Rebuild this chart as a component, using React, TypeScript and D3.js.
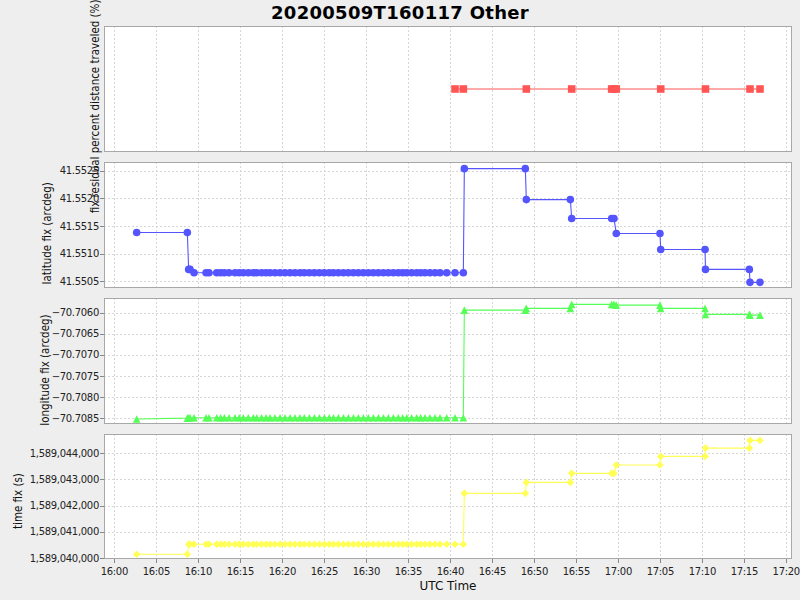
import React from 'react';
import * as d3 from 'd3';

// receipt times, minutes after 16:00 UTC
const receiptMinutes = [
  2.66, 8.69, 8.85, 9.01, 9.49, 10.92, 11.27, 12.19, 12.66, 13.10,
  13.65, 14.37, 14.88, 15.36, 15.96, 16.55, 16.95, 17.54, 18.06, 18.54,
  19.13, 19.73, 20.32, 20.92, 21.51, 22.11, 22.62, 23.22, 23.81, 24.41,
  25.00, 25.60, 26.08, 26.67, 27.27, 27.86, 28.46, 29.05, 29.65, 30.24,
  30.84, 31.43, 32.03, 32.62, 33.22, 33.81, 34.33, 34.81, 35.40, 36.00,
  36.47, 36.99, 37.58, 38.18, 38.77, 39.57, 40.56, 41.55,
  41.67, 48.93, 49.05, 54.29, 54.45, 59.21, 59.49, 59.76, 64.96, 65.05,
  70.33, 70.38, 75.60, 75.68, 76.87,
];

const latitudeFix = [
  41.551384, 41.551384, 41.550717, 41.550717, 41.550655, 41.550655, 41.550655, 41.550655, 41.550655, 41.550655,
  41.550655, 41.550655, 41.550655, 41.550655, 41.550655, 41.550655, 41.550655, 41.550655, 41.550655, 41.550655,
  41.550655, 41.550655, 41.550655, 41.550655, 41.550655, 41.550655, 41.550655, 41.550655, 41.550655, 41.550655,
  41.550655, 41.550655, 41.550655, 41.550655, 41.550655, 41.550655, 41.550655, 41.550655, 41.550655, 41.550655,
  41.550655, 41.550655, 41.550655, 41.550655, 41.550655, 41.550655, 41.550655, 41.550655, 41.550655, 41.550655,
  41.550655, 41.550655, 41.550655, 41.550655, 41.550655, 41.550655, 41.550655, 41.550655,
  41.55254, 41.55254, 41.55198, 41.55198, 41.551637, 41.551637, 41.551637, 41.551366, 41.551366, 41.551078,
  41.551078, 41.550717, 41.550717, 41.550482, 41.550482,
];

const longitudeFix = [
  -70.70852, -70.70850, -70.70849, -70.70849, -70.70849, -70.70849, -70.70849, -70.70849, -70.70849, -70.70849,
  -70.70849, -70.70849, -70.70849, -70.70849, -70.70849, -70.70849, -70.70849, -70.70849, -70.70849, -70.70849,
  -70.70849, -70.70849, -70.70849, -70.70849, -70.70849, -70.70849, -70.70849, -70.70849, -70.70849, -70.70849,
  -70.70849, -70.70849, -70.70849, -70.70849, -70.70849, -70.70849, -70.70849, -70.70849, -70.70849, -70.70849,
  -70.70849, -70.70849, -70.70849, -70.70849, -70.70849, -70.70849, -70.70849, -70.70849, -70.70849, -70.70849,
  -70.70849, -70.70849, -70.70849, -70.70849, -70.70849, -70.70849, -70.70849, -70.70849,
  -70.705937, -70.705937, -70.705897, -70.705897, -70.705802, -70.705802, -70.705802, -70.705818, -70.705818, -70.705897,
  -70.705897, -70.706039, -70.706039, -70.706056, -70.706056,
];

const timeFix = [
  1589040141, 1589040141, 1589040523, 1589040523, 1589040523, 1589040523, 1589040523, 1589040523, 1589040523, 1589040523,
  1589040523, 1589040523, 1589040523, 1589040523, 1589040523, 1589040523, 1589040523, 1589040523, 1589040523, 1589040523,
  1589040523, 1589040523, 1589040523, 1589040523, 1589040523, 1589040523, 1589040523, 1589040523, 1589040523, 1589040523,
  1589040523, 1589040523, 1589040523, 1589040523, 1589040523, 1589040523, 1589040523, 1589040523, 1589040523, 1589040523,
  1589040523, 1589040523, 1589040523, 1589040523, 1589040523, 1589040523, 1589040523, 1589040523, 1589040523, 1589040523,
  1589040523, 1589040523, 1589040523, 1589040523, 1589040523, 1589040523, 1589040523, 1589040523,
  1589042469, 1589042469, 1589042889, 1589042889, 1589043233, 1589043233, 1589043233, 1589043550, 1589043550, 1589043882,
  1589043882, 1589044198, 1589044198, 1589044492, 1589044492,
];

const percentMinutes = [40.56, 41.55, 49.05, 54.45, 59.21, 59.49, 59.76, 65.05, 70.38, 75.68, 76.87];
const percentValues = [0, 0, 0, 0, 0, 0, 0, 0, 0, 0, 0];

const latTicks = [41.5505, 41.551, 41.5515, 41.552, 41.5525];
const lonTicks = [-70.7085, -70.708, -70.7075, -70.707, -70.7065, -70.706];
const timeTicks = [1589040000, 1589041000, 1589042000, 1589043000, 1589044000];

const TITLE = '20200509T160117 Other';
const FONT = 'DejaVu Sans';

const base = Date.UTC(2020, 4, 9, 16, 0, 0);
const toDate = (m: number) => new Date(base + m * 60000);

const PL = 104;
const PR = 792;

const x = d3.scaleUtc().domain([toDate(-1.23), toDate(80.68)]).range([PL, PR]);
const xTicks = x.ticks(d3.utcMinute.every(5) as any);
const xFmt = d3.utcFormat('%H:%M');

function measure(s: string, font: string): number {
  const c = document.createElement('canvas').getContext('2d');
  if (!c) return s.length * 6.5;
  c.font = font;
  return c.measureText(s).width;
}

type Shape = 'square' | 'circle' | 'triangle' | 'diamond';
const shapePath = (s: Shape): string => {
  const r = 3.8;
  switch (s) {
    case 'square':
      return `M${-r},${-r}H${r}V${r}H${-r}Z`;
    case 'circle':
      return `M${-r},0A${r},${r} 0 1,0 ${r},0A${r},${r} 0 1,0 ${-r},0Z`;
    case 'triangle':
      return `M0,${-r}L${r},${r}L${-r},${r}Z`;
    default:
      return `M0,${-r}L${r},0L0,${r}L${-r},0Z`;
  }
};

interface PanelSpec {
  top: number;
  bottom: number;
  domain: [number, number];
  ticks: number[];
  fmt: (v: number) => string;
  times: number[];
  values: number[];
  color: string;
  shape: Shape;
  label: string;
}

const panels: PanelSpec[] = [
  {
    top: 26, bottom: 152, domain: [-1, 1], ticks: [], fmt: () => '',
    times: percentMinutes, values: percentValues, color: '#ff5555', shape: 'square',
    label: 'fix residual percent distance traveled (%)',
  },
  {
    top: 162, bottom: 288, domain: [41.55038, 41.55266], ticks: latTicks, fmt: d3.format('.4f'),
    times: receiptMinutes, values: latitudeFix, color: '#5555ff', shape: 'circle',
    label: 'latitude fix (arcdeg)',
  },
  {
    top: 298, bottom: 424, domain: [-70.70864, -70.70565], ticks: lonTicks, fmt: d3.format('.4f'),
    times: receiptMinutes, values: longitudeFix, color: '#55ff55', shape: 'triangle',
    label: 'longitude fix (arcdeg)',
  },
  {
    top: 434, bottom: 559, domain: [1589039962, 1589044737], ticks: timeTicks, fmt: d3.format(','),
    times: receiptMinutes, values: timeFix, color: '#ffff55', shape: 'diamond',
    label: 'time fix (s)',
  },
];

const GRID = '#d6d6d6';
const OUTLINE = '#a8a8a8';
const LABEL_SCALE = 0.86;

function PanelView({ p, last }: { p: PanelSpec; last: boolean }) {
  const y = d3.scaleLinear().domain(p.domain).range([p.bottom, p.top]);
  const pts = p.times.map((t, i) => [x(toDate(t)), y(p.values[i])] as [number, number]);
  const line = d3.line<[number, number]>().x((d) => d[0]).y((d) => d[1]);
  return (
    <g>
      <rect x={PL} y={p.top} width={PR - PL} height={p.bottom - p.top} fill="#ffffff" />
      {xTicks.map((t, i) => (
        <line key={'gx' + i} x1={Math.round(x(t)) + 0.5} x2={Math.round(x(t)) + 0.5} y1={p.top} y2={p.bottom}
          stroke={GRID} strokeDasharray="2,2" />
      ))}
      {p.ticks.map((v, i) => (
        <line key={'gy' + i} x1={PL} x2={PR} y1={Math.round(y(v)) + 0.5} y2={Math.round(y(v)) + 0.5}
          stroke={GRID} strokeDasharray="2,2" />
      ))}
      <path d={line(pts) || ''} fill="none" stroke={p.color} strokeWidth={1.1} />
      {pts.map((d, i) => (
        <path key={'m' + i} d={shapePath(p.shape)} transform={`translate(${d[0]},${d[1]})`} fill={p.color} />
      ))}
      <rect x={PL + 0.5} y={p.top + 0.5} width={PR - PL - 1} height={p.bottom - p.top - 1}
        fill="none" stroke={OUTLINE} />
      {p.ticks.map((v, i) => (
        <g key={'ty' + i}>
          <line x1={PL - 4} x2={PL} y1={Math.round(y(v)) + 0.5} y2={Math.round(y(v)) + 0.5} stroke="#888" />
          <text x={PL - 5} y={y(v) + 3.6} textAnchor="end" fontFamily={FONT} fontSize={10}
            letterSpacing="-0.3px" fill="#222">{p.fmt(v)}</text>
        </g>
      ))}
      {last && xTicks.map((t, i) => (
        <g key={'tx' + i}>
          <line x1={Math.round(x(t)) + 0.5} x2={Math.round(x(t)) + 0.5} y1={p.bottom} y2={p.bottom + 4} stroke="#888" />
          <text x={x(t)} y={p.bottom + 16} textAnchor="middle" fontFamily={FONT} fontSize={10}
            letterSpacing="-0.3px" fill="#222">{xFmt(t)}</text>
        </g>
      ))}
    </g>
  );
}

function YLabel({ p, bx }: { p: PanelSpec; bx: number }) {
  const w = measure(p.label, `12px "${FONT}"`);
  const c = (p.top + p.bottom) / 2;
  const y0 = c + w / 2;
  return (
    <text transform={`translate(${bx},${y0}) rotate(-90) scale(${LABEL_SCALE},1)`} textAnchor="start"
      fontFamily={FONT} fontSize={12} fill="#111">{p.label}</text>
  );
}

export default function App() {
  const labelX = [99, 51, 49, 22];
  return (
    <svg width={800} height={600} style={{ position: 'absolute', left: 0, top: 0, display: 'block' }}>
      <rect x={0} y={0} width={800} height={600} fill="#eeeeee" />
      <text x={400} y={18.5} textAnchor="middle" fontFamily={FONT} fontSize={18} fontWeight="bold"
        letterSpacing="0.3px" fill="#000">{TITLE}</text>
      {panels.map((p, i) => (
        <PanelView key={i} p={p} last={i === panels.length - 1} />
      ))}
      {panels.map((p, i) => (
        <YLabel key={'yl' + i} p={p} bx={labelX[i]} />
      ))}
      <text x={(PL + PR) / 2} y={590} textAnchor="middle" fontFamily={FONT} fontSize={12} fill="#111">UTC Time</text>
    </svg>
  );
}
